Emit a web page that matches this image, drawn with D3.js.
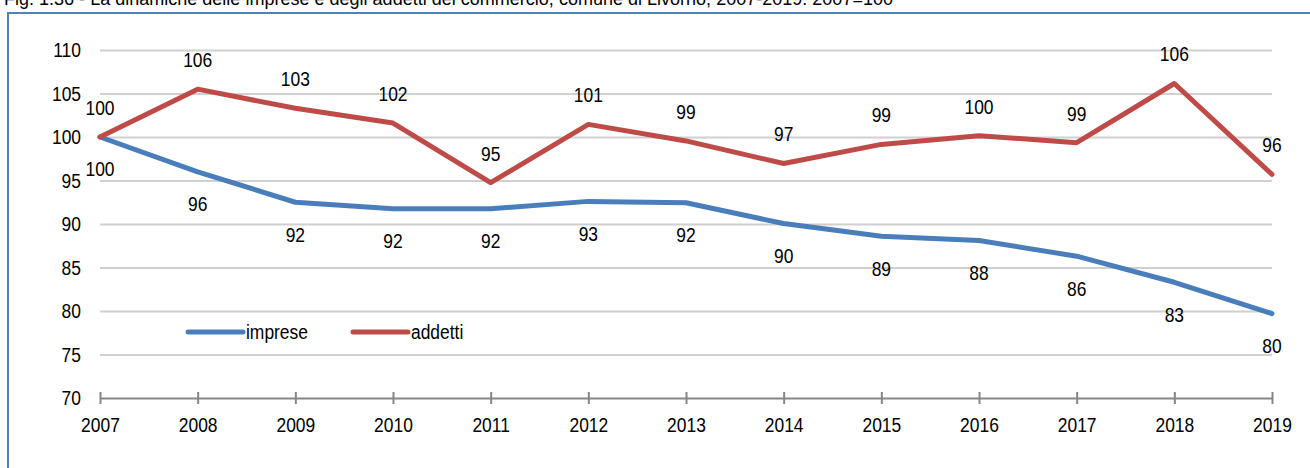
<!DOCTYPE html>
<html>
<head>
<meta charset="utf-8">
<script src="https://cdn.jsdelivr.net/npm/d3@7"></script>
<style>
  html, body { margin: 0; padding: 0; background: #fff; }
  svg { display: block; }
  text { font-family: "Liberation Sans", Arial, sans-serif; fill: #000; }
</style>
</head>
<body>
<svg id="chart" width="1310" height="468"></svg>
<script>
const title = "Fig. 1.36  - La dinamiche delle imprese e degli addetti del commercio, comune di Livorno, 2007-2019. 2007=100";
const years = [2007, 2008, 2009, 2010, 2011, 2012, 2013, 2014, 2015, 2016, 2017, 2018, 2019];
const imprese = [100, 96.0, 92.5, 91.75, 91.75, 92.6, 92.45, 90.05, 88.6, 88.1, 86.3, 83.3, 79.7];
const addetti = [100, 105.5, 103.3, 101.6, 94.75, 101.45, 99.55, 96.95, 99.15, 100.15, 99.35, 106.15, 95.7];
const impreseLabels = ["100", "96", "92", "92", "92", "93", "92", "90", "89", "88", "86", "83", "80"];
const addettiLabels = ["100", "106", "103", "102", "95", "101", "99", "97", "99", "100", "99", "106", "96"];
const yTicks = [70, 75, 80, 85, 90, 95, 100, 105, 110];
const seriesNames = ["imprese", "addetti"];
const colors = ["#4a7ebb", "#be4b48"];

const FS = 21;
const SX = 0.83; // horizontal condensing to mimic the narrow font
function narrow(sel) {
  sel.each(function () {
    const t = d3.select(this);
    const tx = +t.attr("x") || 0;
    const ty = +t.attr("y") || 0;
    t.attr("x", 0).attr("y", 0).attr("transform", `translate(${tx},${ty}) scale(${SX},1)`);
  });
}

const svg = d3.select("#chart");

// frame
svg.append("path")
  .attr("d", "M8,468 L8,13 L1310,13")
  .attr("fill", "none").attr("stroke", "#4f81bd").attr("stroke-width", 2);

// title (partly cut at top, as in the reference)
svg.append("text")
  .attr("x", 4).attr("y", 5)
  .attr("font-size", 18)
  .attr("textLength", 889).attr("lengthAdjust", "spacingAndGlyphs")
  .text(title);

const x = d3.scaleLinear().domain([2007, 2019]).range([100, 1272]);
const y = d3.scaleLinear().domain([70, 110]).range([398, 50]);

// y axis with gridlines
const yAxis = svg.append("g")
  .attr("transform", "translate(100,0)")
  .call(d3.axisLeft(y).tickValues(yTicks).tickSizeInner(-(1272 - 100)).tickSizeOuter(0).tickPadding(19).tickFormat(d3.format("d")));
yAxis.select(".domain").remove();
yAxis.selectAll(".tick line")
  .attr("stroke", d => d === 70 ? "none" : "#d0d0d0")
  .attr("stroke-width", 2);
yAxis.selectAll(".tick text")
  .attr("font-size", FS)
  .attr("font-family", null)
  .attr("fill", "#000")
  .call(narrow);

// x axis
const xAxis = svg.append("g")
  .attr("transform", `translate(0,${y(70)})`)
  .call(d3.axisBottom(x).tickValues(years).tickSizeOuter(0).tickSizeInner(6).tickPadding(13).tickFormat(d3.format("d")));
xAxis.select(".domain").attr("stroke", "#868686").attr("stroke-width", 2);
xAxis.selectAll(".tick line").attr("y1", -6).attr("y2", 6).attr("stroke", "#868686").attr("stroke-width", 2);
xAxis.selectAll(".tick text")
  .attr("font-size", FS)
  .attr("font-family", null)
  .attr("fill", "#000")
  .call(narrow);

// lines
const line = d3.line().x((d, i) => x(years[i])).y(d => y(d));
[imprese, addetti].forEach((vals, k) => {
  svg.append("path")
    .datum(vals)
    .attr("d", line)
    .attr("fill", "none")
    .attr("stroke", colors[k])
    .attr("stroke-width", 5)
    .attr("stroke-linejoin", "round")
    .attr("stroke-linecap", "round");
});

// data labels
svg.append("g").selectAll("text")
  .data(imprese)
  .join("text")
  .attr("x", (d, i) => x(years[i]))
  .attr("y", d => y(d) + 32)
  .attr("dy", "0.35em")
  .attr("text-anchor", "middle")
  .attr("font-size", FS)
  .text((d, i) => impreseLabels[i])
  .call(narrow);

svg.append("g").selectAll("text")
  .data(addetti)
  .join("text")
  .attr("x", (d, i) => x(years[i]))
  .attr("y", d => y(d) - 29.5)
  .attr("dy", "0.35em")
  .attr("text-anchor", "middle")
  .attr("font-size", FS)
  .text((d, i) => addettiLabels[i])
  .call(narrow);

// legend
const legendX = [188, 353];
seriesNames.forEach((name, k) => {
  const g = svg.append("g");
  g.append("line")
    .attr("x1", legendX[k]).attr("x2", legendX[k] + 55)
    .attr("y1", 332).attr("y2", 332)
    .attr("stroke", colors[k]).attr("stroke-width", 5)
    .attr("stroke-linecap", "round");
  g.append("text")
    .attr("x", legendX[k] + 58).attr("y", 332)
    .attr("dy", "0.35em")
    .attr("font-size", FS)
    .text(name)
    .call(narrow);
});
</script>
</body>
</html>
